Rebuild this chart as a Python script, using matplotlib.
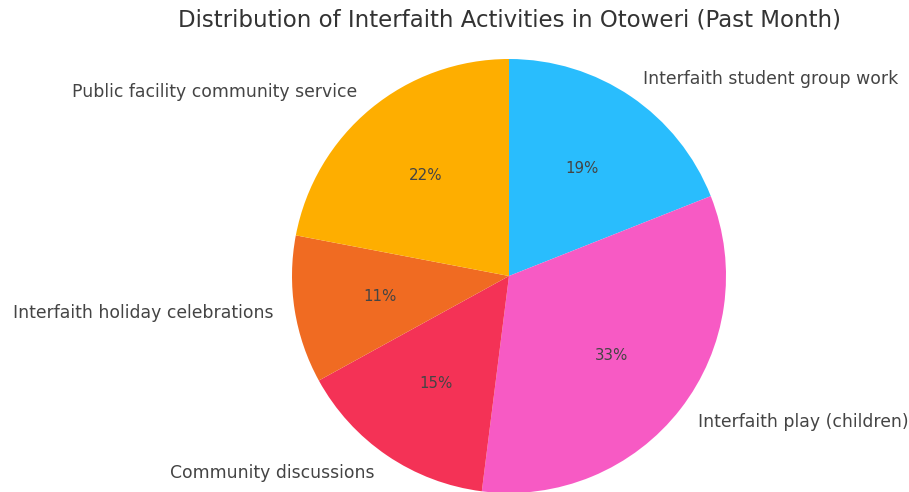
import matplotlib
matplotlib.use("Agg")
import matplotlib.pyplot as plt

labels = ["Interfaith student group work", "Interfaith play (children)", "Community discussions",
          "Interfaith holiday celebrations", "Public facility community service"]
values = [19, 33, 15, 11, 22]
colors = ["#29BDFD", "#F75AC4", "#F43256", "#F06B22", "#FEAE00"]

W, H = 909, 492
fig = plt.figure(figsize=(W / 100, H / 100), dpi=100)
cx, cy, r = 509, 276, 217
ax = fig.add_axes([(cx - r) / W, (H - cy - r) / H, 2 * r / W, 2 * r / H])
wedges, texts, autotexts = ax.pie(values, labels=labels, colors=colors, startangle=90,
                                  counterclock=False, autopct="%1.0f%%", pctdistance=0.6,
                                  labeldistance=1.1,
                                  textprops={"color": "#444444", "fontsize": 12.4})
for t in autotexts:
    t.set_fontsize(10.8)
ax.set_xlim(-1, 1)
ax.set_ylim(-1, 1)
ax.set_aspect("equal")
ax.axis("off")
fig.text(cx / W, 1 - 20 / H, "Distribution of Interfaith Activities in Otoweri (Past Month)",
         ha="center", va="center", fontsize=16.5, color="#333333")
fig.savefig("out.png", dpi=100)
